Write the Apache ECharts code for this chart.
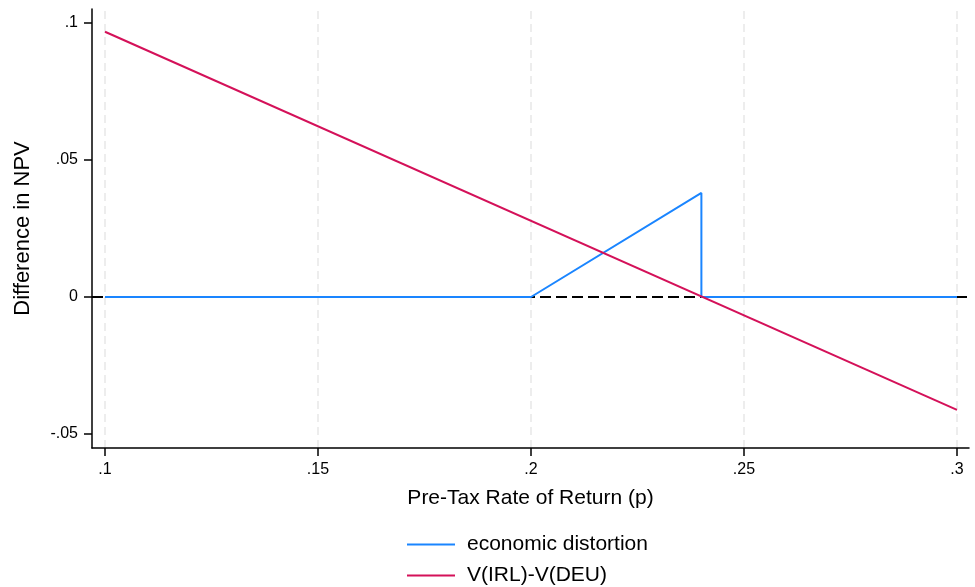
<!DOCTYPE html>
<html>
<head>
<meta charset="utf-8">
<script src="https://cdn.jsdelivr.net/npm/echarts@6/dist/echarts.min.js"></script>
<style>html,body{margin:0;padding:0;background:#fff;}#c{width:975px;height:587px;}</style>
</head>
<body>
<div id="c"></div>
<script>
// ---- data ----
var xTickValues = [0.1, 0.15, 0.2, 0.25, 0.3];
var xTickLabels = ['.1', '.15', '.2', '.25', '.3'];
var yTickValues = [-0.05, 0, 0.05, 0.1];
var yTickLabels = ['-.05', '0', '.05', '.1'];
var distortionX = [0.1, 0.2, 0.24, 0.24, 0.3];
var distortionY = [0, 0, 0.038, 0, 0];
var npvDiffX = [0.1, 0.3];
var npvDiffY = [0.0968, -0.0412];
var seriesNames = ['economic distortion', 'V(IRL)-V(DEU)'];
var xTitle = 'Pre-Tax Rate of Return (p)';
var yTitle = 'Difference in NPV';
var refLineY = 0;

function zip(a, b) { return a.map(function (v, i) { return [v, b[i]]; }); }
function lab(vals, labels) {
  return function (v) {
    for (var i = 0; i < vals.length; i++) if (Math.abs(vals[i] - v) < 1e-9) return labels[i];
    return '';
  };
}
var FONT = '"Liberation Sans", Arial, Helvetica, sans-serif';
var chart = echarts.init(document.getElementById('c'));
chart.setOption({
  animation: false,
  backgroundColor: '#fff',
  grid: { left: 92, right: 6, top: 9, bottom: 139, containLabel: false, outerBoundsMode: 'none' },
  xAxis: {
    type: 'value', min: 0.09695, max: 0.30282,
    name: xTitle, nameLocation: 'middle', nameGap: 40,
    nameTextStyle: { fontFamily: FONT, fontSize: 21, color: '#000' },
    axisLine: { show: true, onZero: false, lineStyle: { color: '#000', width: 1.5 } },
    axisTick: { show: true, length: 8, customValues: xTickValues, lineStyle: { color: '#000', width: 1.5 } },
    axisLabel: { customValues: xTickValues, formatter: lab(xTickValues, xTickLabels), margin: 14,
      fontFamily: FONT, fontSize: 16, color: '#000' },
    splitLine: { show: false }
  },
  yAxis: {
    type: 'value', min: -0.0551, max: 0.1051,
    name: yTitle, nameLocation: 'middle', nameGap: 58, nameRotate: 90,
    nameTextStyle: { fontFamily: FONT, fontSize: 22, color: '#000' },
    axisLine: { show: true, onZero: false, lineStyle: { color: '#000', width: 1.5 } },
    axisTick: { show: true, length: 8, customValues: yTickValues, lineStyle: { color: '#000', width: 1.5 } },
    axisLabel: { customValues: yTickValues, formatter: lab(yTickValues, yTickLabels), margin: 14,
      fontFamily: FONT, fontSize: 16, color: '#000' },
    splitLine: { show: false }
  },
  legend: {
    orient: 'vertical', left: 407, top: 534, padding: 0,
    itemWidth: 48, itemHeight: 2, itemGap: 10,
    icon: 'rect',
    textStyle: { fontFamily: FONT, fontSize: 21, lineHeight: 20, color: '#000', padding: [0, 0, 0, 7] },
    data: seriesNames
  },
  series: [
    {
      name: '_grid', type: 'line', data: [], silent: true,
      markLine: {
        silent: true, symbol: 'none', label: { show: false }, z: 0,
        lineStyle: { color: '#e8e8e8', width: 1.5, type: [8, 5] },
        data: xTickValues.map(function (v) { return { xAxis: v }; })
      }, z: 0
    },
    {
      name: '_ref', type: 'line', data: [], silent: true,
      markLine: {
        silent: true, symbol: 'none', label: { show: false }, z: 1,
        lineStyle: { color: '#000', width: 2, type: [11, 5] },
        data: [{ yAxis: refLineY }]
      }, z: 1
    },
    {
      name: seriesNames[0], type: 'line', data: zip(distortionX, distortionY),
      symbol: 'none', lineStyle: { color: '#1a85ff', width: 2 }, itemStyle: { color: '#1a85ff' }, z: 3
    },
    {
      name: seriesNames[1], type: 'line', data: zip(npvDiffX, npvDiffY),
      symbol: 'none', lineStyle: { color: '#d41159', width: 2 }, itemStyle: { color: '#d41159' }, z: 4
    }
  ]
});
</script>
</body>
</html>
